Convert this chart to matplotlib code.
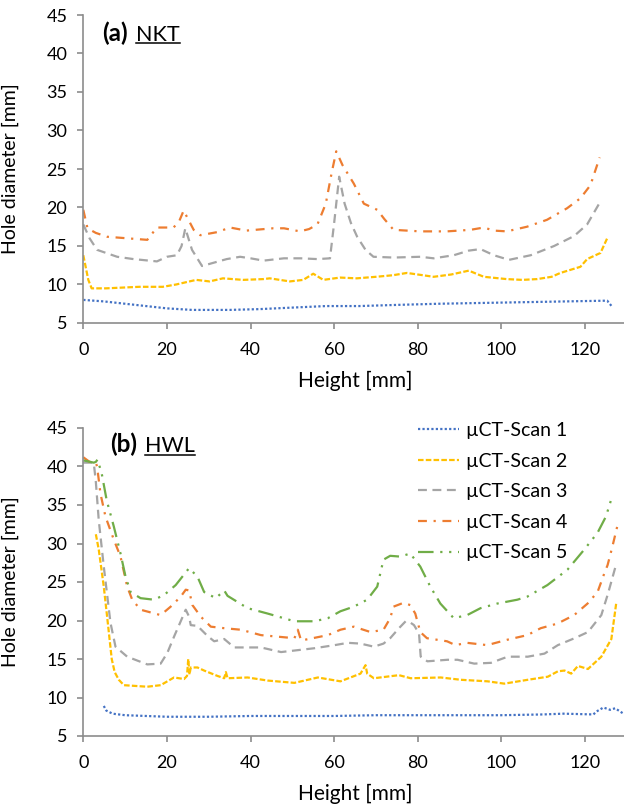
import matplotlib
matplotlib.use("Agg")
import matplotlib.pyplot as plt
from matplotlib.lines import Line2D

plt.rcParams['font.family'] = ['Lato', 'DejaVu Sans']

# ---- (a) NKT ----
nkt_s1_x = [0, 5, 10, 15, 20, 26, 35, 42, 50, 58, 66, 75, 85, 95, 105, 115, 125.3, 126.5]
nkt_s1_y = [8.0, 7.8, 7.5, 7.2, 6.9, 6.7, 6.7, 6.8, 7.0, 7.2, 7.2, 7.35, 7.5, 7.6, 7.7, 7.8, 7.9, 7.1]

nkt_s2_x = [0, 1.2, 2, 5.4, 13.4, 19, 22.2, 27, 30.2, 33.4, 38.2, 43, 44.6, 49.4, 52.6, 55, 57.4,
            61.4, 65.4, 70, 74, 77.4, 80, 83.8, 88, 92.2, 95.8, 101.3, 105, 108.5, 112, 114.1,
            118.9, 120.5, 123.7, 125.3]
nkt_s2_y = [13.8, 10.6, 9.5, 9.5, 9.7, 9.7, 10.0, 10.6, 10.4, 10.8, 10.6, 10.7, 10.8, 10.4, 10.6, 11.4, 10.6,
            10.9, 10.8, 11.0, 11.2, 11.5, 11.3, 11.0, 11.3, 11.8, 11.0, 10.7, 10.6, 10.7, 11.0, 11.5,
            12.3, 13.3, 14.1, 16.0]

nkt_s3_x = [0, 1.5, 3.3, 8.1, 12, 17.6, 20, 22.4, 23.5, 24.4, 26, 28.4, 31, 34.3, 37.5, 40, 43.1, 48, 52,
            56, 59.0, 60, 61.2, 62.5, 64, 65.5, 67.5, 69.4, 74.2, 80.6, 83.8, 88.6, 92.2, 95, 98.2,
            101.8, 107, 112.6, 117.4, 120.5, 123.7]
nkt_s3_y = [17.8, 16.0, 14.5, 13.6, 13.3, 13.0, 13.6, 13.8, 15.0, 17.3, 14.5, 12.4, 12.8, 13.3, 13.6, 13.4,
            13.1, 13.4, 13.4, 13.3, 13.4, 18.0, 24.0, 20.5, 18.0, 16.2, 14.5, 13.6, 13.5, 13.6, 13.4,
            13.8, 14.4, 14.6, 13.8, 13.2, 13.8, 15.0, 16.3, 17.8, 20.8]

nkt_s4_x = [0, 1, 3, 5.7, 10.5, 15.3, 17.6, 21.6, 23, 24, 26.4, 28, 32, 35.1, 39, 45.4, 48, 51.8, 54, 56,
            58, 59.4, 60.5, 62, 64.7, 67.1, 70.3, 72, 74.2, 80.6, 87, 92.6, 95.8, 98.2, 101.3, 106.1,
            110.9, 115.7, 118.9, 121.3, 123.5]
nkt_s4_y = [19.7, 17.3, 16.7, 16.2, 16.0, 15.8, 17.4, 17.4, 18.3, 19.6, 17.1, 16.4, 16.8, 17.4, 17.0, 17.3,
            17.3, 16.9, 17.2, 17.8, 20.5, 24.5, 27.3, 25.5, 23.1, 20.5, 19.7, 18.5, 17.1, 16.9, 16.9,
            17.1, 17.4, 17.0, 16.9, 17.5, 18.4, 19.9, 21.2, 22.9, 26.5]

# ---- (b) HWL ----
hwl_s1_x = [4.9, 5.5, 7, 10, 15, 20, 30, 40, 50, 60, 70, 80, 88, 100, 110, 114.8, 122, 122.8, 124.4,
            126, 127.2, 129.2]
hwl_s1_y = [8.9, 8.3, 7.9, 7.7, 7.6, 7.5, 7.5, 7.6, 7.6, 7.6, 7.7, 7.7, 7.7, 7.7, 7.8, 7.9, 7.8, 8.2, 8.7,
            8.4, 8.6, 7.9]

hwl_s2_x = [3.0, 3.7, 4.9, 6.0, 6.8, 7.5, 8.5, 9.7, 15.3, 18.5, 21.7, 24.1, 24.8, 25.1, 25.4, 25.7,
            27.3, 28.9, 32.1, 33.7, 34.1, 34.5, 39.3, 44.1, 50.5, 56.1, 61.5, 66.3, 67.5, 67.9, 69.5,
            75.5, 78.3, 85.5, 90.3, 96.7, 100.7, 106.3, 111.1, 113.5, 115.1, 116.7, 118.3, 120.7,
            123.9, 126.3, 127.5]
hwl_s2_y = [31.2, 29.2, 24.4, 19.0, 15.0, 13.3, 12.3, 11.6, 11.4, 11.6, 12.6, 12.4, 12.8, 15.0, 13.0, 13.9,
            13.9, 13.5, 12.8, 12.5, 13.3, 12.5, 12.6, 12.2, 11.9, 12.6, 12.1, 13.1, 14.2, 13.1, 12.5,
            12.9, 12.5, 12.6, 12.3, 12.1, 11.8, 12.3, 12.7, 13.4, 13.5, 13.1, 14.1, 13.7,
            15.3, 17.6, 22.4]

hwl_s3_x = [0, 2.5, 3.0, 3.7, 4.9, 6.5, 7.7, 10.5, 15.3, 18.5, 20.1, 21.7, 24.5, 25.3, 25.7, 27.3,
            29.7, 31.3, 33.7, 36.1, 42.5, 47.3, 50.5, 55.3, 60.1, 63.3, 66.3, 69.5, 71.8, 73.4, 75.5,
            77.1, 78.3, 79.1, 80.3, 80.7, 82.3, 87.1, 89.5, 93.5, 97.5, 101.5, 106.3, 110.3, 113.5,
            117.5, 120.7, 123.9, 125.5, 127.5]
hwl_s3_y = [40.5, 40.5, 38.0, 33.0, 27.0, 19.7, 16.6, 15.3, 14.3, 14.4, 15.8, 17.9, 21.4, 20.5, 19.4, 19.3,
            18.0, 17.3, 17.6, 16.5, 16.5, 15.9, 16.1, 16.4, 16.8, 17.1, 17.0, 16.6, 17.0, 17.7, 19.0,
            19.9, 19.7, 19.4, 18.3, 15.3, 14.7, 14.9, 14.9, 14.4, 14.5, 15.3, 15.3, 15.7, 16.8,
            17.7, 18.5, 20.7, 23.5, 27.4]

hwl_s4_x = [0, 1.5, 3.0, 3.3, 4.1, 5.3, 7.3, 8.9, 10.5, 11.7, 13.7, 18.5, 20.9, 23.3, 24.5, 25.3,
            26.1, 28.1, 30.5, 33.7, 37.7, 42.5, 50.5, 51.3, 52.1, 58.5, 61.5, 64.7, 68.7, 71.8, 73.4,
            74.2, 76.6, 78.2, 79.4, 80.6, 82.2, 87.0, 89.0, 91.8, 96.6, 101.4, 106.2, 109.4, 113.4,
            117.4, 120.6, 123.0, 124.6, 125.4, 126.5, 127.7]
hwl_s4_y = [41.2, 40.6, 40.5, 40.0, 36.5, 33.5, 30.5, 28.3, 24.4, 22.7, 21.4, 20.7, 21.8, 23.1, 24.0, 23.9,
            22.0, 20.5, 19.2, 19.0, 18.8, 18.1, 17.7, 18.8, 17.4, 18.1, 18.8, 19.2, 18.5, 18.8, 20.3,
            21.8, 22.3, 22.0, 20.9, 18.5, 17.7, 17.3, 16.8, 17.1, 16.8, 17.5, 18.1, 19.0, 19.6,
            20.7, 22.2, 23.7, 26.1, 27.2, 29.5, 32.2]

hwl_s5_x = [0, 2.5, 3.0, 3.4, 4.4, 5.6, 7.3, 8.9, 10.1, 11.3, 13.7, 16.9, 19.3, 22.1, 25.3, 27.3,
            28.9, 31.7, 33.7, 34.5, 39.3, 44.1, 50.5, 55.3, 58.5, 61.5, 64.7, 67.9, 70.3, 71.8, 73.4,
            75.8, 78.2, 80.6, 83.0, 85.4, 88.6, 91.8, 95.0, 99.0, 103.8, 106.2, 111.0, 115.8, 119.8,
            123.0, 125.0, 126.2]
hwl_s5_y = [40.8, 40.5, 40.6, 40.9, 39.1, 35.6, 32.2, 28.7, 25.7, 23.7, 22.9, 22.7, 23.3, 24.6, 26.8, 25.7,
            23.7, 22.9, 23.9, 23.2, 21.6, 20.9, 19.9, 19.9, 20.3, 21.2, 21.8, 22.7, 24.4, 27.9, 28.4,
            28.3, 28.7, 27.0, 24.4, 22.2, 20.3, 20.7, 21.6, 22.2, 22.7, 23.1, 24.6, 26.6, 29.2,
            31.4, 33.5, 35.6]

series_labels = ["µCT-Scan 1", "µCT-Scan 2", "µCT-Scan 3", "µCT-Scan 4", "µCT-Scan 5"]
x_ticks = [0, 20, 40, 60, 80, 100, 120]
y_ticks = [5, 10, 15, 20, 25, 30, 35, 40, 45]

colors = ["#4472C4", "#FFC000", "#A5A5A5", "#ED7D31", "#70AD47"]
dashes = [(0, (1, 1)), (0, (2.5, 1)), (0, (4, 2.5)), (0, (4, 3, 1, 3)), (0, (7, 3, 1, 3, 1, 3))]
LW = 1.6
AX_COL = "#8c8c8c"

W, H = 624, 807
fig = plt.figure(figsize=(W / 100, H / 100), dpi=100)

def px_axes(left, top, right_x, bottom):
    return [left / W, 1 - bottom / H, (right_x - left) / W, (bottom - top) / H]

x_left = 83.3
x_right = x_left + 130 * 4.181
ax_a = fig.add_axes(px_axes(x_left, 15, x_right, 323))
ax_b = fig.add_axes(px_axes(x_left, 428, x_right, 736))

data_a = [(nkt_s1_x, nkt_s1_y), (nkt_s2_x, nkt_s2_y), (nkt_s3_x, nkt_s3_y), (nkt_s4_x, nkt_s4_y)]
data_b = [(hwl_s1_x, hwl_s1_y), (hwl_s2_x, hwl_s2_y), (hwl_s3_x, hwl_s3_y), (hwl_s4_x, hwl_s4_y),
          (hwl_s5_x, hwl_s5_y)]

handles = []
for i, (xs, ys) in enumerate(data_a):
    ax_a.plot(xs, ys, color=colors[i], lw=LW, linestyle=dashes[i], solid_capstyle='butt')
for i, (xs, ys) in enumerate(data_b):
    ln, = ax_b.plot(xs, ys, color=colors[i], lw=LW, linestyle=dashes[i], label=series_labels[i])
    handles.append(ln)

for ax in (ax_a, ax_b):
    ax.set_xlim(0, 130)
    ax.set_ylim(5, 45)
    ax.set_xticks(x_ticks)
    ax.set_yticks(y_ticks)
    for s in ("top", "right"):
        ax.spines[s].set_visible(False)
    for s in ("left", "bottom"):
        ax.spines[s].set_color(AX_COL)
        ax.spines[s].set_linewidth(1.2)
    ax.tick_params(axis='both', direction='out', length=4.5, width=1.2, color=AX_COL,
                   labelsize=13, labelcolor='black')
    ax.tick_params(axis='x', pad=9)
    ax.tick_params(axis='y', pad=7)
    ax.set_xlabel("Height [mm]", fontsize=15)
    ax.set_ylabel("Hole diameter [mm]", fontsize=14)
    ax.xaxis.set_label_coords(0.5, -0.155)
    ax.yaxis.set_label_coords(-0.118, 0.5)
    ax.patch.set_visible(False)

# panel tags: bold letter plus underlined sample name
tags = []
for ax, letter, name, xa, ya in ((ax_a, "(a)", "NKT", 0.035, 0.916), (ax_b, "(b)", "HWL", 0.05, 0.922)):
    t1 = ax.text(xa, ya, letter, transform=ax.transAxes, fontsize=17.5, fontweight='bold',
                 va='baseline', ha='left')
    tags.append((ax, t1, name))

fig.canvas.draw()
renderer = fig.canvas.get_renderer()
for ax, t1, name in tags:
    bb = t1.get_window_extent(renderer)
    inv = ax.transAxes.inverted()
    x0, y0 = inv.transform((bb.x1 + 8, 0))[0], t1.get_position()[1]
    t2 = ax.text(x0, y0, name, transform=ax.transAxes, fontsize=15.5, va='baseline', ha='left')
    fig.canvas.draw()
    bb2 = t2.get_window_extent(renderer)
    base_y = ax.transAxes.transform((0, y0))[1] - 2.5
    fig.add_artist(Line2D([bb2.x0 / W, bb2.x1 / W], [base_y / H, base_y / H], color='black', lw=1.1))

leg = ax_b.legend(handles=handles, loc='upper left', bbox_to_anchor=(418 / W, 1 - 422 / H),
                  bbox_transform=fig.transFigure, frameon=False, fontsize=14,
                  handlelength=2.1, handletextpad=0.35, labelspacing=0.7, borderaxespad=0,
                  borderpad=0)

fig.savefig("out.png", dpi=100)
